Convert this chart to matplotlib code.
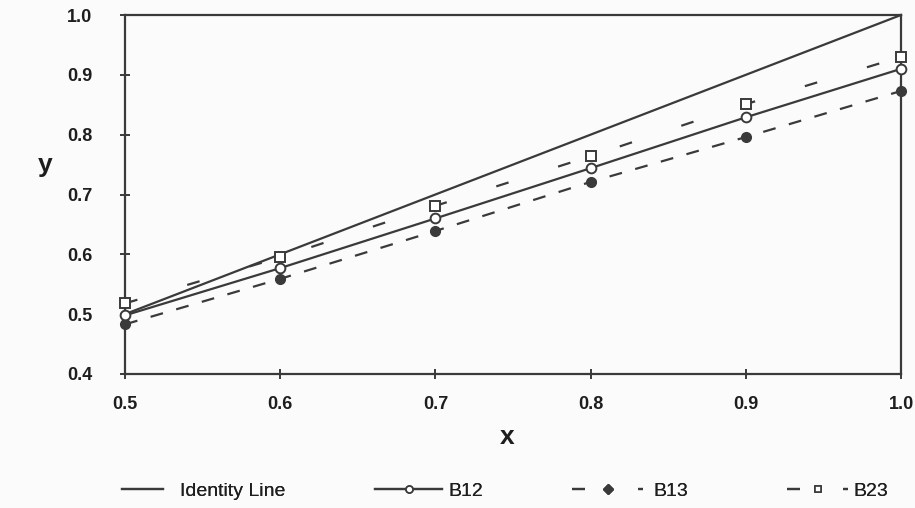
import matplotlib
matplotlib.use("Agg")
import matplotlib.pyplot as plt
from matplotlib.lines import Line2D

x_vals = [0.5, 0.6, 0.7, 0.8, 0.9, 1.0]
identity = [0.5, 0.6, 0.7, 0.8, 0.9, 1.0]
b12 = [0.498, 0.577, 0.660, 0.744, 0.829, 0.910]
b13 = [0.483, 0.559, 0.639, 0.721, 0.796, 0.873]
b23 = [0.518, 0.595, 0.681, 0.764, 0.851, 0.930]
x_ticks = [0.5, 0.6, 0.7, 0.8, 0.9, 1.0]
y_ticks = [0.4, 0.5, 0.6, 0.7, 0.8, 0.9, 1.0]
labels = ['Identity Line', 'B12', 'B13', 'B23']

plt.rcParams['font.family'] = ['Liberation Sans', 'DejaVu Sans']
ink = '#3a3a3a'
txt = '#1e1e1e'
bg = '#fbfbfb'
W, H = 915, 508

fig = plt.figure(figsize=(9.15, 5.08), dpi=100, facecolor=bg)
ax = fig.add_axes([125/W, 1-374/H, (901-125)/W, (374-15)/H])
ax.set_facecolor(bg)

lw = 1.6
ax.plot(x_vals, identity, color=ink, lw=lw, clip_on=False)
ax.plot(x_vals, b12, color=ink, lw=lw, marker='o', ms=7, mfc='white',
        mec=ink, mew=1.4, clip_on=False, zorder=4)
ax.plot(x_vals, b13, color=ink, lw=lw, dashes=(5.8, 6.2), marker='o', ms=7,
        mfc=ink, mec=ink, clip_on=False, zorder=3)
ax.plot(x_vals, b23, color=ink, lw=lw, dashes=(5.8, 23.4), marker='s', ms=7.5,
        mfc='white', mec=ink, mew=1.4, clip_on=False, zorder=5)

ax.set_xlim(0.5, 1.0)
ax.set_ylim(0.4, 1.0)
ax.set_xticks(x_ticks)
ax.set_yticks(y_ticks)
ax.set_xticklabels([f'{v:.1f}' for v in x_ticks])
ax.set_yticklabels([f'{v:.1f}' for v in y_ticks])
for s in ax.spines.values():
    s.set_color(ink)
    s.set_linewidth(1.6)
ax.tick_params(direction='inout', length=7, width=1.4, color=ink,
               labelsize=13, labelcolor=txt)
ax.tick_params(axis='y', pad=20)
ax.tick_params(axis='x', pad=12)
for lab in ax.get_xticklabels() + ax.get_yticklabels():
    lab.set_fontweight('bold')

fig.text(45/W, 1-165/H, 'y', fontsize=19, fontweight='bold', color=txt,
         ha='center', va='center')
fig.text(507/W, 1-437/H, 'x', fontsize=19, fontweight='bold', color=txt,
         ha='center', va='center')

# legend: four separate entries placed as in the reference
fs = 14
handles = [
    Line2D([], [], color=ink, lw=lw),
    Line2D([], [], color=ink, lw=lw, marker='o', ms=5, mfc='white', mec=ink, mew=1.2),
    Line2D([], [], color=ink, lw=lw, dashes=(5.85, 23.9), marker='D', ms=5.5,
           mfc=ink, mec=ink),
    Line2D([], [], color=ink, lw=lw, dashes=(5.85, 19.4), marker='s', ms=5,
           mfc='white', mec=ink, mew=1.2),
]
starts = [122, 375, 572, 787]
hlens = [41, 67, 71, 61]
gaps = [17, 6, 10, 5]
px_per_em = fs * 100 / 72
ly = 1 - 491/H
for h, lab, x0, hl, g in zip(handles, labels, starts, hlens, gaps):
    leg = fig.legend([h], [lab], loc='center left',
                     bbox_to_anchor=(x0/W, ly), frameon=False, fontsize=fs,
                     borderpad=0, borderaxespad=0,
                     handlelength=hl/px_per_em, handletextpad=g/px_per_em)
    for t in leg.get_texts():
        t.set_color(txt)
    fig.add_artist(leg)

fig.savefig('out.png', dpi=100, facecolor=bg)
